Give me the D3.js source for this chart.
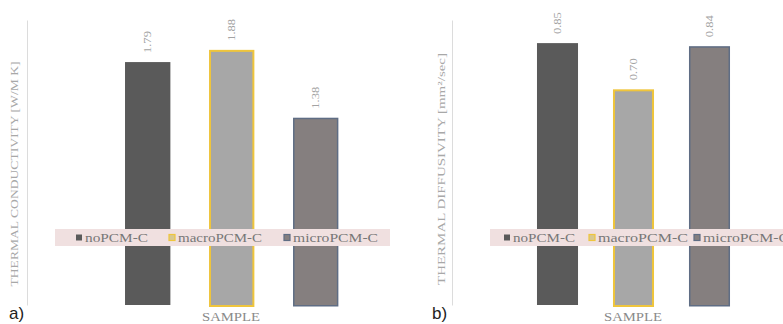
<!DOCTYPE html>
<html><head><meta charset="utf-8">
<script src="https://cdn.jsdelivr.net/npm/d3@7/dist/d3.min.js"></script>
<style>html,body{margin:0;padding:0;background:#fff;}svg{display:block;}</style>
</head><body>
<svg id="chart" width="783" height="324"></svg>
<script>
const categories = ["noPCM-C", "macroPCM-C", "microPCM-C"];
const conductivity = [1.79, 1.88, 1.38];
const diffusivity = [0.85, 0.70, 0.84];
const panelTitles = ["THERMAL CONDUCTIVITY  [W/M K]", "THERMAL DIFFUSIVITY  [mm\u00B2/sec]"];
const panelTags = ["a)", "b)"];
const xTitle = "SAMPLE";

const fills = ["#5a5a5a", "#a7a7a7", "#857f7f"];
const strokes = ["#5a5a5a", "#efc53c", "#5f6d84"];
const strokeW = [0, 2, 1.5];

const svg = d3.select("#chart");

const panels = [
  { values: conductivity, title: panelTitles[0], tag: panelTags[0], ymax: 2.1,
    axisX: 27, xr: [105.7, 357.7], titleX: 18, titleY: 174, titleLen: 225,
    band: [55, 390], legX: [79, 172, 287], legLen: [63, 84, 85],
    sampleX: 231, tagX: 9 },
  { values: diffusivity, title: panelTitles[1], tag: panelTags[1], ymax: 0.925,
    axisX: 452, xr: [519.5, 747.5], titleX: 445, titleY: 169, titleLen: 232,
    band: [490, 790], legX: [507, 592, 697], legLen: [62, 90, 86],
    sampleX: 633, tagX: 432 }
];

panels.forEach(p => {
  const g = svg.append("g");
  const y = d3.scaleLinear().domain([0, p.ymax]).range([305, 20]);
  const x = d3.scaleBand().domain(categories).range(p.xr).paddingInner(0.46).paddingOuter(0.23);

  // y axis line (no ticks)
  const ax = g.append("g").attr("transform", `translate(${p.axisX},0)`)
    .call(d3.axisLeft(y).tickValues([]).tickSizeOuter(0));
  ax.select(".domain").attr("stroke", "#dcdcdc").attr("stroke-width", 1);

  // bars
  g.selectAll("rect.bar").data(categories).join("rect")
    .attr("class", "bar")
    .attr("x", (d, i) => x(d) + strokeW[i] / 2)
    .attr("y", (d, i) => y(p.values[i]) + strokeW[i] / 2)
    .attr("width", (d, i) => x.bandwidth() - strokeW[i])
    .attr("height", (d, i) => y(0) - y(p.values[i]))
    .attr("fill", (d, i) => fills[i])
    .attr("stroke", (d, i) => strokeW[i] ? strokes[i] : "none")
    .attr("stroke-width", (d, i) => strokeW[i]);

  // value labels, rotated
  g.selectAll("text.val").data(categories).join("text")
    .attr("class", "val")
    .attr("transform", (d, i) => `translate(${x(d) + x.bandwidth() / 2 + 3.5},${y(p.values[i]) - 9}) rotate(-90)`)
    .attr("font-family", "Liberation Serif, serif")
    .attr("font-size", 10)
    .attr("fill", "#a3a3a3")
    .attr("textLength", 22).attr("lengthAdjust", "spacingAndGlyphs")
    .text((d, i) => p.values[i].toFixed(2));

  // legend band
  g.append("rect").attr("x", p.band[0]).attr("y", 229)
    .attr("width", p.band[1] - p.band[0]).attr("height", 17)
    .attr("fill", "#f0e0e0");
  categories.forEach((c, i) => {
    g.append("rect").attr("x", p.legX[i] - 3).attr("y", 234.5).attr("width", 6).attr("height", 6)
      .attr("fill", i === 1 ? "#d8c890" : fills[i])
      .attr("stroke", i === 0 ? "none" : strokes[i]).attr("stroke-width", 1.2);
    g.append("text").attr("x", p.legX[i] + 6).attr("y", 241.5)
      .attr("font-family", "Liberation Serif, serif").attr("font-size", 12)
      .attr("fill", "#777")
      .attr("textLength", p.legLen[i]).attr("lengthAdjust", "spacingAndGlyphs")
      .text(c);
  });

  // y title
  g.append("text")
    .attr("transform", `translate(${p.titleX},${p.titleY}) rotate(-90)`)
    .attr("text-anchor", "middle")
    .attr("font-family", "Liberation Serif, serif").attr("font-size", 10)
    .attr("fill", "#a8a8a8")
    .attr("textLength", p.titleLen).attr("lengthAdjust", "spacingAndGlyphs")
    .text(p.title);

  // x title
  g.append("text").attr("x", p.sampleX).attr("y", 321)
    .attr("text-anchor", "middle")
    .attr("font-family", "Liberation Serif, serif").attr("font-size", 12)
    .attr("fill", "#8a8a8a")
    .attr("textLength", 58).attr("lengthAdjust", "spacingAndGlyphs")
    .text(xTitle);

  // panel tag
  g.append("text").attr("x", p.tagX).attr("y", 319)
    .attr("font-family", "Liberation Sans, Arial, sans-serif").attr("font-size", 17)
    .attr("fill", "#222")
    .text(p.tag);
});
</script>
</body></html>
